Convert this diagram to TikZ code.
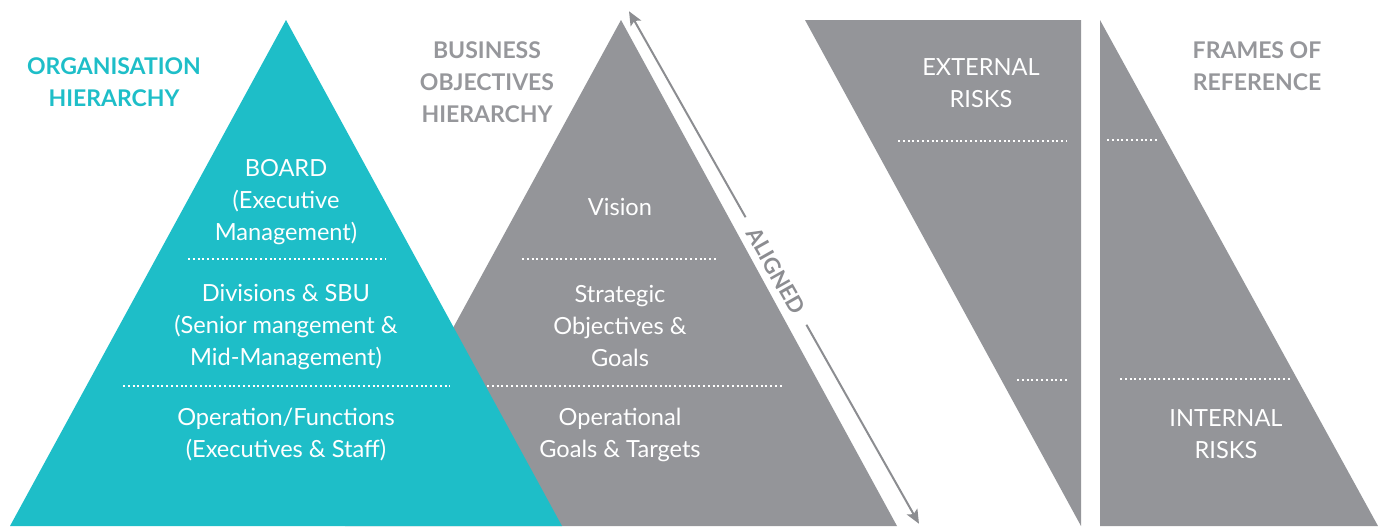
\documentclass[tikz,border=0pt]{standalone}
\usepackage{fontspec}
\setmainfont{Lato}
\usepackage{tikz}
\usetikzlibrary{arrows.meta,positioning}
\definecolor{orgteal}{RGB}{30,190,200}
\definecolor{riskgray}{RGB}{148,149,153}
\definecolor{titlegray}{RGB}{150,151,155}
\definecolor{linegray}{RGB}{140,141,145}
\tikzset{
  layertext/.style={text=white, align=center, font=\fontsize{11.8}{16}\selectfont},
  titletext/.style={align=center, font=\bfseries\fontsize{11.5}{16}\selectfont},
  divider/.style={white, line width=1pt, dash pattern=on 1pt off 1.4pt},
  alignarrow/.style={-{Stealth[length=7pt, width=6pt, inset=1.5pt]}, linegray, line width=1pt, shorten >=-1pt},
}

\begin{document}
\begin{tikzpicture}[x=0.5pt, y=-0.5pt]
\useasboundingbox (0,0) rectangle (1378,526);
% shapes
\fill[riskgray] (621,20) -- (897,526) -- (345,526) -- cycle;
\fill[orgteal] (286,20) -- (562,526) -- (10,526) -- cycle;
\fill[riskgray] (805,20) -- (1081,20) -- (1081,526) -- cycle;
\fill[riskgray] (1100,20) -- (1378,526) -- (1100,526) -- cycle;

% dotted separators
\foreach \xa/\xb/\y in {188/385/259, 123/450/386, 522/718/259, 487/783/386,
                        898/1067/141, 1017/1067/380, 1107/1157/140, 1120/1290/379}
  \draw[divider] (\xa,\y) -- (\xb,\y);

% titles
\node[titletext, text=orgteal] (orgtitle) at (114,82) {ORGANISATION\\HIERARCHY};
\node[titletext, text=titlegray] (bustitle) at (487,82) {BUSINESS\\OBJECTIVES\\HIERARCHY};
\node[titletext, text=titlegray] (frametitle) at (1257,66) {FRAMES OF\\REFERENCE};

% organisation levels
\node[layertext] (board) at (286,202) {BOARD\\(Executive\\Management)};
\node[layertext] (divisions) at (286,327) {Divisions \& SBU\\(Senior mangement \&\\Mid-Management)};
\node[layertext] (operations) at (286,435) {Operation/Functions\\(Executives \& Staff)};

% objective levels
\node[layertext] (vision) at (620,207) {Vision};
\node[layertext] (strategic) at (620,326) {Strategic\\Objectives \&\\Goals};
\node[layertext] (opgoals) at (620,435) {Operational\\Goals \& Targets};

% risks
\node[layertext] (external) at (981,83) {EXTERNAL\\RISKS};
\node[layertext] (internal) at (1226,434) {INTERNAL\\RISKS};

% aligned arrow
\coordinate (atop) at (630,13);
\coordinate (abot) at (918,522);
\node[text=linegray, font=\bfseries\fontsize{11}{12}\selectfont, rotate=-60.5, inner sep=1pt, outer sep=6pt] (aligned) at (776,271) {ALIGNED};
\draw[alignarrow] (aligned) -- (atop);
\draw[alignarrow] (aligned) -- (abot);
\end{tikzpicture}
\end{document}
